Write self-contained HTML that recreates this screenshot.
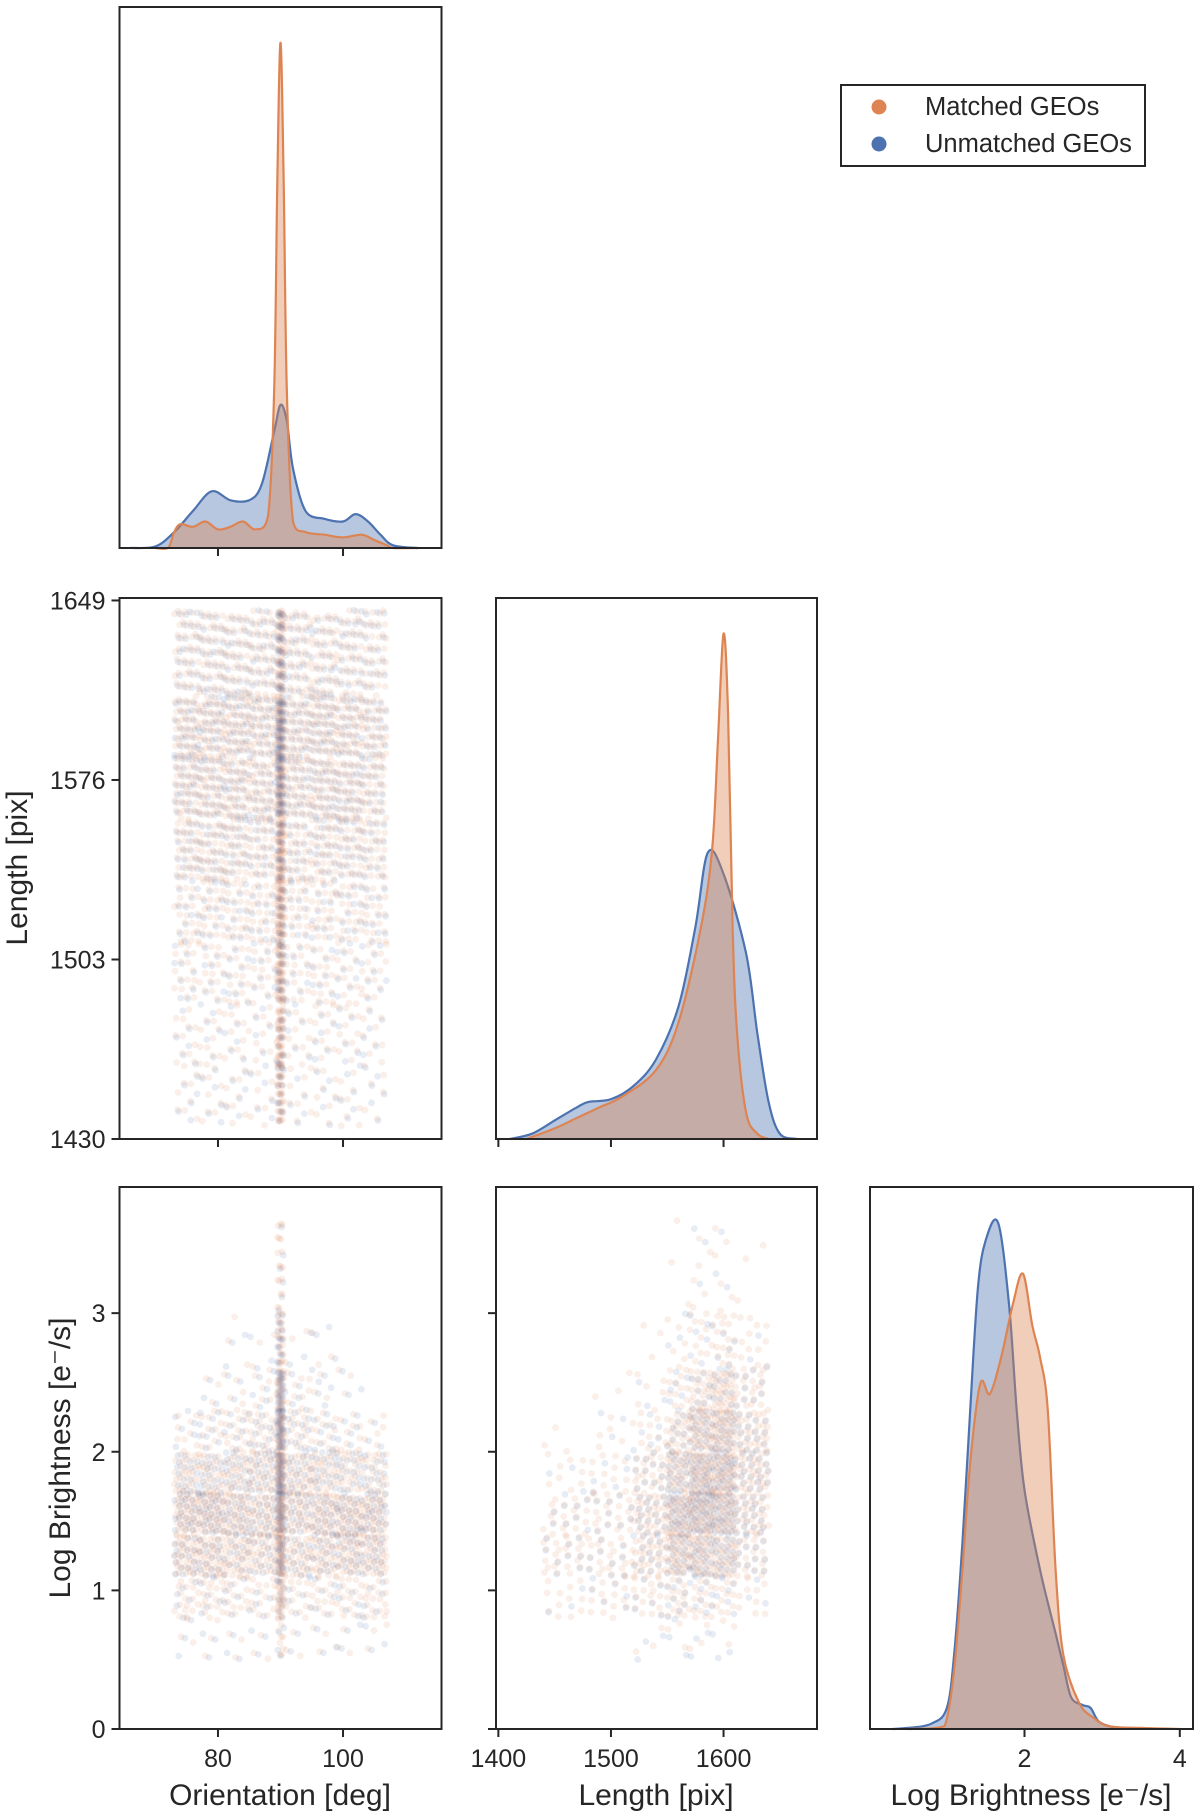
<!DOCTYPE html>
<html><head><meta charset="utf-8"><style>
html,body{margin:0;padding:0;background:#fff}
svg{display:block;font-family:"Liberation Sans",Arial,sans-serif}
</style></head><body>
<svg id="chart" width="1200" height="1818" viewBox="0 0 1200 1818" xmlns="http://www.w3.org/2000/svg">
<g id="marks"></g>
<g id="frames"></g>
<g>
<rect x="841" y="85" width="304" height="81" fill="#fff" stroke="#262626" stroke-width="2"/>
<circle cx="879" cy="107" r="7.5" fill="#dd8452"/>
<text x="925" y="115" font-size="25.5" fill="#262626">Matched GEOs</text>
<circle cx="879" cy="144" r="7.5" fill="#4c72b0"/>
<text x="925" y="152" font-size="25.5" fill="#262626">Unmatched GEOs</text>
</g>
<text transform="translate(27,868) rotate(-90)" text-anchor="middle" font-size="30" fill="#262626">Length [pix]</text>
<text transform="translate(70,1458) rotate(-90)" text-anchor="middle" font-size="30" fill="#262626">Log Brightness [e⁻/s]</text>
<text x="280" y="1805" text-anchor="middle" font-size="30" fill="#262626">Orientation [deg]</text>
<text x="656" y="1805" text-anchor="middle" font-size="30" fill="#262626">Length [pix]</text>
<text x="1031" y="1805" text-anchor="middle" font-size="30" fill="#262626">Log Brightness [e⁻/s]</text>
</svg>
<script>
// ---------- data ----------
const orientX_blue = [66,70,73,76,79,82,85,87,89,90,91,92,94,97,100,102,104,106,108,112];
const orientD_blue = [0,0.003,0.03,0.07,0.107,0.09,0.09,0.12,0.22,0.27,0.24,0.15,0.07,0.055,0.05,0.064,0.05,0.025,0.005,0];
const orientX_or = [70,72,73,74,76,78,80,82,84,86,88,89,89.5,90,90.5,91,92,94,97,100,103,105,107,108,112];
const orientD_or = [0,0,0.03,0.045,0.04,0.05,0.035,0.04,0.05,0.035,0.06,0.3,0.7,0.953,0.7,0.3,0.05,0.03,0.025,0.02,0.025,0.015,0.005,0,0];
const lenX_blue = [1410,1430,1450,1470,1480,1500,1520,1540,1560,1575,1586,1600,1620,1630,1640,1650,1665];
const lenD_blue = [0,0.01,0.035,0.06,0.07,0.075,0.1,0.15,0.25,0.4,0.54,0.5,0.35,0.2,0.07,0.01,0];
const lenX_or = [1425,1450,1470,1490,1510,1540,1560,1580,1590,1595,1600,1604,1608,1612,1620,1630,1640];
const lenD_or = [0,0.02,0.04,0.06,0.08,0.13,0.22,0.4,0.55,0.75,0.953,0.8,0.4,0.2,0.05,0.01,0];
const lbX_blue = [0.3,0.5,0.8,1.0,1.1,1.2,1.3,1.4,1.5,1.66,1.8,1.9,2.0,2.2,2.4,2.5,2.6,2.75,2.85,2.95,3.1,3.3];
const lbD_blue = [0,0.002,0.01,0.04,0.15,0.35,0.6,0.83,0.92,0.953,0.8,0.6,0.45,0.3,0.18,0.12,0.06,0.045,0.04,0.015,0.005,0];
const lbX_or = [0.5,0.9,1.0,1.1,1.2,1.3,1.43,1.55,1.7,1.85,1.98,2.1,2.2,2.3,2.4,2.5,2.7,2.9,3.1,3.5,4.0];
const lbD_or = [0,0.003,0.02,0.12,0.3,0.5,0.65,0.63,0.7,0.8,0.857,0.76,0.7,0.6,0.3,0.14,0.05,0.02,0.005,0.002,0];

// scatter density grids (relative counts per bin, rows bottom -> top)
const olXEdges = [73,77,81,85,89.5,90.5,95,99,103,107];
const olYEdges = [1435,1460,1485,1510,1535,1560,1585,1610,1645];
const olOrange = [[3,3,3,3,12,3,3,3,2],[4,4,4,4,15,4,4,4,3],[6,6,6,6,18,6,6,5,5],[8,8,8,9,20,9,8,8,7],[12,12,12,12,22,12,12,11,10],[15,15,15,16,22,16,15,14,12],[16,16,16,17,22,17,16,15,13],[14,14,14,16,20,16,14,13,12]];
const olBlue = [[2,2,2,2,4,2,2,2,2],[2,2,2,2,4,2,2,2,2],[3,3,3,3,6,3,3,3,3],[4,4,4,4,6,4,4,4,4],[6,6,6,6,8,6,6,6,5],[8,8,8,8,14,8,8,8,6],[9,9,9,9,16,9,9,8,7],[8,8,8,9,12,9,8,8,6]];
const obXEdges = [73,77,81,85,89.5,90.5,95,99,103,107];
const obYEdges = [0.5,0.8,1.1,1.4,1.7,2.0,2.3,2.6,3.0,3.7];
const obOrange = [[1,1,1,1,3,1,1,1,1],[6,6,5,5,8,5,5,6,6],[14,14,12,12,14,12,12,13,13],[16,16,14,14,16,14,14,15,14],[10,10,10,12,16,12,10,9,8],[3,4,5,7,14,7,4,3,2],[0,1,2,3,10,3,1,1,0],[0,0,1,1,8,1,1,0,0],[0,0,0,0,6,0,0,0,0]];
const obBlue = [[1,1,1,1,1,1,1,1,1],[2,2,2,2,3,2,2,2,2],[6,6,5,5,6,5,5,6,6],[8,9,7,7,8,7,7,8,8],[6,6,6,7,10,7,6,5,5],[2,3,3,4,10,4,3,2,1],[0,1,1,2,8,2,2,1,0],[0,0,1,1,5,1,1,0,0],[0,0,0,0,2,0,0,0,0]];
const lbXEdges = [1440,1480,1520,1550,1570,1590,1610,1640];
const lbYEdges = [0.5,0.8,1.1,1.4,1.7,2.0,2.3,2.6,3.0,3.7];
const lbOrange = [[0,0,1,1,1,1,0],[4,5,6,6,5,4,3],[8,8,12,14,14,12,8],[7,7,12,16,18,16,12],[3,4,8,12,18,18,14],[1,2,4,8,14,16,12],[0,1,2,4,8,12,8],[0,0,1,2,4,6,4],[0,0,0,1,2,2,1]];
const lbBlue = [[0,0,1,1,1,1,0],[1,2,2,3,3,2,1],[3,3,5,7,8,7,4],[3,3,6,10,12,10,7],[1,2,4,7,10,10,7],[0,1,2,4,7,7,5],[0,0,1,2,3,4,3],[0,0,0,1,2,2,1],[0,0,0,0,1,1,0]];
const POINTS_PER_COUNT = 3;

const xTicksOrient = [80,100];
const xTicksLen = [1400,1500,1600];
const yTicksLen = [1430,1503,1576,1649];
const yTicksLB = [0,1,2,3];
const xTicksLB = [2,4];

// ---------- layout ----------
const NS="http://www.w3.org/2000/svg";
const C1=[119.5,441.5], C2=[496,817], C3=[870,1193];
const R1=[7,548], R2=[598,1139], R3=[1187,1729];
const ORANGE="#dd8452", BLUE="#4c72b0", INK="#262626";
const lin=(d0,d1,r0,r1)=>v=>r0+(v-d0)/(d1-d0)*(r1-r0);
const xOrient=lin(64.25,115.75,C1[0],C1[1]);
const xLen=lin(1397.9,1683,C2[0],C2[1]);
const xLB=lin(0.01,4.17,C3[0],C3[1]);
const yLen=lin(1430,1650,R2[1],R2[0]);
const yLB=lin(0,3.91,R3[1],R3[0]);
const marks=document.getElementById('marks'), frames=document.getElementById('frames');
function mk(tag,attrs,parent){const e=document.createElementNS(NS,tag);for(const k in attrs)e.setAttribute(k,attrs[k]);parent.appendChild(e);return e;}

function smooth(pts){
  let d='M'+pts[0][0].toFixed(1)+','+pts[0][1].toFixed(1);
  for(let i=0;i<pts.length-1;i++){
    const p0=pts[Math.max(0,i-1)],p1=pts[i],p2=pts[i+1],p3=pts[Math.min(pts.length-1,i+2)];
    let c1x=p1[0]+(p2[0]-p0[0])/6, c1y=p1[1]+(p2[1]-p0[1])/6;
    let c2x=p2[0]-(p3[0]-p1[0])/6, c2y=p2[1]-(p3[1]-p1[1])/6;
    c1y=Math.min(c1y,Math.max(p1[1],p2[1])+2); c2y=Math.min(c2y,Math.max(p1[1],p2[1])+2);
    d+=' C'+c1x.toFixed(1)+','+c1y.toFixed(1)+' '+c2x.toFixed(1)+','+c2y.toFixed(1)+' '+p2[0].toFixed(1)+','+p2[1].toFixed(1);
  }
  return d;
}
function kde(xs,ds,xf,rows,color,name){
  const yf=lin(0,1,rows[1],rows[0]+0.02*(rows[1]-rows[0]));
  const pts=xs.map((x,i)=>[xf(x),Math.min(rows[1],yf(ds[i]))]);
  const lineD=smooth(pts);
  const d=lineD+' L'+pts[pts.length-1][0].toFixed(1)+','+rows[1]+' L'+pts[0][0].toFixed(1)+','+rows[1]+' Z';
  const a=mk('path',{d:d,fill:color,'fill-opacity':0.4,stroke:'none'},marks);
  
  
  const l=mk('path',{d:lineD,fill:'none',stroke:color,'stroke-width':2.2,'stroke-linejoin':'round'},marks);
  
  
}
function scatter(xE,yE,grid,xf,yf,color,name,seed){
  const g=mk('g',{},marks);
  
  
  grid.forEach((row,ri)=>row.forEach((cnt,ci)=>{
    const n=cnt*POINTS_PER_COUNT;
    const s=((ri*7+ci*13+seed)*0.3819660)%1, s2=((ri*11+ci*5+seed)*0.7071068)%1;
    for(let k=0;k<n;k++){
      const u=(k*0.7548776662+s)%1;
      const v=(k*0.5698402910+s2)%1;
      const x=xE[ci]+u*(xE[ci+1]-xE[ci]);
      const y=yE[ri]+v*(yE[ri+1]-yE[ri]);
      const c=mk('circle',{cx:xf(x).toFixed(1),cy:yf(y).toFixed(1),r:3.4,fill:color,'fill-opacity':0.13},g);
      
      
    }
  }));
}
kde(orientX_blue,orientD_blue,xOrient,R1,BLUE,'orientation-kde-unmatched');
kde(orientX_or,orientD_or,xOrient,R1,ORANGE,'orientation-kde-matched');
kde(lenX_blue,lenD_blue,xLen,R2,BLUE,'length-kde-unmatched');
kde(lenX_or,lenD_or,xLen,R2,ORANGE,'length-kde-matched');
kde(lbX_blue,lbD_blue,xLB,R3,BLUE,'brightness-kde-unmatched');
kde(lbX_or,lbD_or,xLB,R3,ORANGE,'brightness-kde-matched');
scatter(olXEdges,olYEdges,olOrange,xOrient,yLen,ORANGE,'orient-length-matched-points',1);
scatter(olXEdges,olYEdges,olBlue,xOrient,yLen,BLUE,'orient-length-unmatched-points',5);
scatter(obXEdges,obYEdges,obOrange,xOrient,yLB,ORANGE,'orient-brightness-matched-points',2);
scatter(obXEdges,obYEdges,obBlue,xOrient,yLB,BLUE,'orient-brightness-unmatched-points',7);
scatter(lbXEdges,lbYEdges,lbOrange,xLen,yLB,ORANGE,'length-brightness-matched-points',3);
scatter(lbXEdges,lbYEdges,lbBlue,xLen,yLB,BLUE,'length-brightness-unmatched-points',9);

function panel(cols,rows,name){
  const r=mk('rect',{x:cols[0],y:rows[0],width:cols[1]-cols[0],height:rows[1]-rows[0],fill:'none',stroke:INK,'stroke-width':2},frames);
  
  
}
function xticks(ticks,xf,rows,labels,name){
  ticks.forEach(t=>{
    const x=xf(t);
    const l=mk('line',{x1:x,x2:x,y1:rows[1],y2:rows[1]+8,stroke:INK,'stroke-width':2},frames);
    
    
    if(labels){const tx=mk('text',{x:x,y:rows[1]+38,'text-anchor':'middle','font-size':25,fill:INK},frames);tx.textContent=t;
      
      }
  });
}
function yticks(ticks,yf,cols,labels,name){
  ticks.forEach(t=>{
    const y=yf(t);
    const l=mk('line',{x1:cols[0]-8,x2:cols[0],y1:y,y2:y,stroke:INK,'stroke-width':2},frames);
    
    
    if(labels){const tx=mk('text',{x:cols[0]-14,y:y+9,'text-anchor':'end','font-size':25,fill:INK},frames);tx.textContent=t;
      
      }
  });
}
panel(C1,R1,'orientation-kde-panel');
panel(C1,R2,'orientation-length-panel');
panel(C2,R2,'length-kde-panel');
panel(C1,R3,'orientation-brightness-panel');
panel(C2,R3,'length-brightness-panel');
panel(C3,R3,'brightness-kde-panel');
xticks(xTicksOrient,xOrient,R1,false,'x-orient-r1');
xticks(xTicksOrient,xOrient,R2,false,'x-orient-r2');
xticks(xTicksLen,xLen,R2,false,'x-length-r2');
xticks(xTicksOrient,xOrient,R3,true,'x-orient');
xticks(xTicksLen,xLen,R3,true,'x-length');
xticks(xTicksLB,xLB,R3,true,'x-brightness');
yticks(yTicksLen,yLen,C1,true,'y-length');
yticks(yTicksLB,yLB,C1,true,'y-brightness');
yticks(yTicksLB,yLB,C2,false,'y-brightness-c2');
</script>
</body></html>
